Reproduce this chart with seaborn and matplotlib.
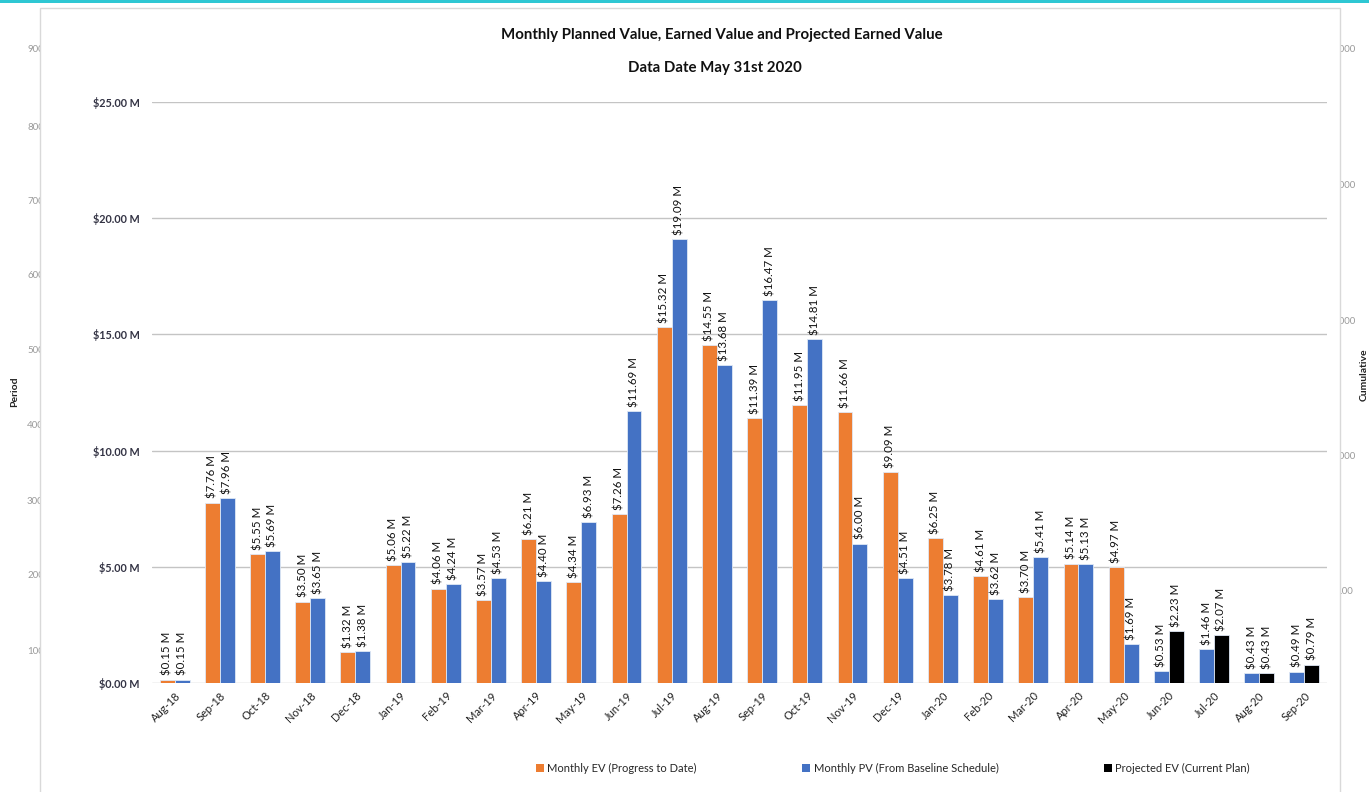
import pandas as pd
import matplotlib
matplotlib.use('Agg')
import matplotlib.pyplot as plt
from matplotlib.patches import Patch, Rectangle
import seaborn as sns

# data ($ millions)
months = ['Aug-18', 'Sep-18', 'Oct-18', 'Nov-18', 'Dec-18', 'Jan-19', 'Feb-19', 'Mar-19',
          'Apr-19', 'May-19', 'Jun-19', 'Jul-19', 'Aug-19', 'Sep-19', 'Oct-19', 'Nov-19',
          'Dec-19', 'Jan-20', 'Feb-20', 'Mar-20', 'Apr-20', 'May-20', 'Jun-20', 'Jul-20',
          'Aug-20', 'Sep-20']
monthly_ev = [0.15, 7.76, 5.55, 3.50, 1.32, 5.06, 4.06, 3.57, 6.21, 4.34, 7.26, 15.32,
              14.55, 11.39, 11.95, 11.66, 9.09, 6.25, 4.61, 3.70, 5.14, 4.97]
monthly_pv = [0.15, 7.96, 5.69, 3.65, 1.38, 5.22, 4.24, 4.53, 4.40, 6.93, 11.69, 19.09,
              13.68, 16.47, 14.81, 6.00, 4.51, 3.78, 3.62, 5.41, 5.13, 1.69, 0.53, 1.46,
              0.43, 0.49]
projected_ev = [2.23, 2.07, 0.43, 0.79]  # Jun-20 .. Sep-20

ev_name = 'Monthly EV (Progress to Date)'
pv_name = 'Monthly PV (From Baseline Schedule)'
proj_name = 'Projected EV (Current Plan)'
colors = {ev_name: '#ED7D31', pv_name: '#4472C4', proj_name: '#000000'}

# two bar slots per month: EV|PV while actuals exist, then PV|Projected
rows = []
n_ev = len(monthly_ev)
for i, m in enumerate(months):
    if i < n_ev:
        rows.append((m, 'left', monthly_ev[i], ev_name))
        rows.append((m, 'right', monthly_pv[i], pv_name))
    else:
        rows.append((m, 'left', monthly_pv[i], pv_name))
        rows.append((m, 'right', projected_ev[i - n_ev], proj_name))
df = pd.DataFrame(rows, columns=['month', 'slot', 'value', 'series'])

sns.set_style('white')
plt.rcParams['font.family'] = ['Lato', 'DejaVu Sans']

fig = plt.figure(figsize=(13.69, 7.92), dpi=100)
fig.patch.set_facecolor('white')

# faint axes of the chart behind (cut off by the panel)
for k, y in enumerate([50, 127, 201, 276, 351, 426, 501, 576, 651]):
    fig.text(27 / 1369, 1 - y / 792, str(900 - 100 * k), fontsize=7, color='#9a9a9a',
             ha='left', va='center', zorder=-3)
fig.text(15 / 1369, 1 - 392 / 792, 'Period', rotation=90, fontsize=7.5, weight='bold',
         color='#222222', ha='center', va='center', zorder=-3)
for y in [50, 186, 321, 456]:
    fig.text(1333 / 1369, 1 - y / 792, '1000', fontsize=7, color='#9a9a9a',
             ha='left', va='center', zorder=-3)
fig.text(1336 / 1369, 1 - 591 / 792, '100', fontsize=7, color='#9a9a9a',
         ha='left', va='center', zorder=-3)
fig.text(1364 / 1369, 1 - 375 / 792, 'Cumulative', rotation=90, fontsize=7.5, weight='bold',
         color='#222222', ha='center', va='center', zorder=-3)

# white chart panel
fig.patches.append(Rectangle((40 / 1369, -0.05), 1300 / 1369, 1.05 - 8 / 792,
                             transform=fig.transFigure, facecolor='white',
                             edgecolor='#d9d9d9', linewidth=1, zorder=-1))
# cyan strip at top
fig.patches.append(Rectangle((0, 1 - 3 / 792), 1, 3 / 792, transform=fig.transFigure,
                             facecolor='#2ec7d3', edgecolor='none', zorder=-0.5))

ax = fig.add_axes([152 / 1369, 1 - 683 / 792, 1175 / 1369, 581 / 792])
ax.set_facecolor('none')
sns.barplot(data=df, x='month', y='value', hue='slot', hue_order=['left', 'right'],
            order=months, width=0.66, ax=ax, legend=False)

for container, slot in zip(ax.containers, ['left', 'right']):
    sub = df[df['slot'] == slot].set_index('month').loc[months]
    for patch, s in zip(container.patches, sub['series']):
        patch.set_facecolor(colors[s])
        patch.set_edgecolor('#dfe8f5')
        patch.set_linewidth(0.6)
    ax.bar_label(container, labels=[f'${v:.2f} M' for v in sub['value']], rotation=90,
                 padding=3, fontsize=8.3, color='#111111')

ax.set_ylim(0, 25)
ax.set_xlim(-0.5, len(months) - 0.5)
ax.set_yticks([0, 5, 10, 15, 20, 25])
ax.set_yticklabels([f'${v:.2f} M' for v in [0, 5, 10, 15, 20, 25]], fontsize=7.8,
                   weight='bold', color='#333344')
ax.yaxis.grid(True, color='#c4c4c4', linewidth=1)
ax.set_axisbelow(True)
ax.tick_params(axis='y', length=3, color='#aaaaaa', pad=6)
ax.tick_params(axis='x', length=0, pad=5)
plt.setp(ax.get_xticklabels(), rotation=45, ha='right', rotation_mode='anchor',
         fontsize=8, color='#222222')
ax.set_xlabel('')
ax.set_ylabel('')
for side in ['top', 'right', 'left', 'bottom']:
    ax.spines[side].set_visible(False)

fig.text(722 / 1369, 1 - 35 / 792, 'Monthly Planned Value, Earned Value and Projected Earned Value',
         ha='center', va='center', fontsize=10.8, weight='bold', color='#111111')
fig.text(715 / 1369, 1 - 68 / 792, 'Data Date May 31st 2020',
         ha='center', va='center', fontsize=10.8, weight='bold', color='#111111')

handles = [Patch(facecolor=colors[n], edgecolor='none', label=n)
           for n in [ev_name, pv_name, proj_name]]
fig.legend(handles=handles, loc='center', bbox_to_anchor=(893 / 1369, 1 - 768 / 792),
           ncol=3, frameon=False, fontsize=8, handlelength=0.7, handleheight=0.7,
           handletextpad=0.3, columnspacing=9.5)

fig.savefig('out.png', dpi=100)
